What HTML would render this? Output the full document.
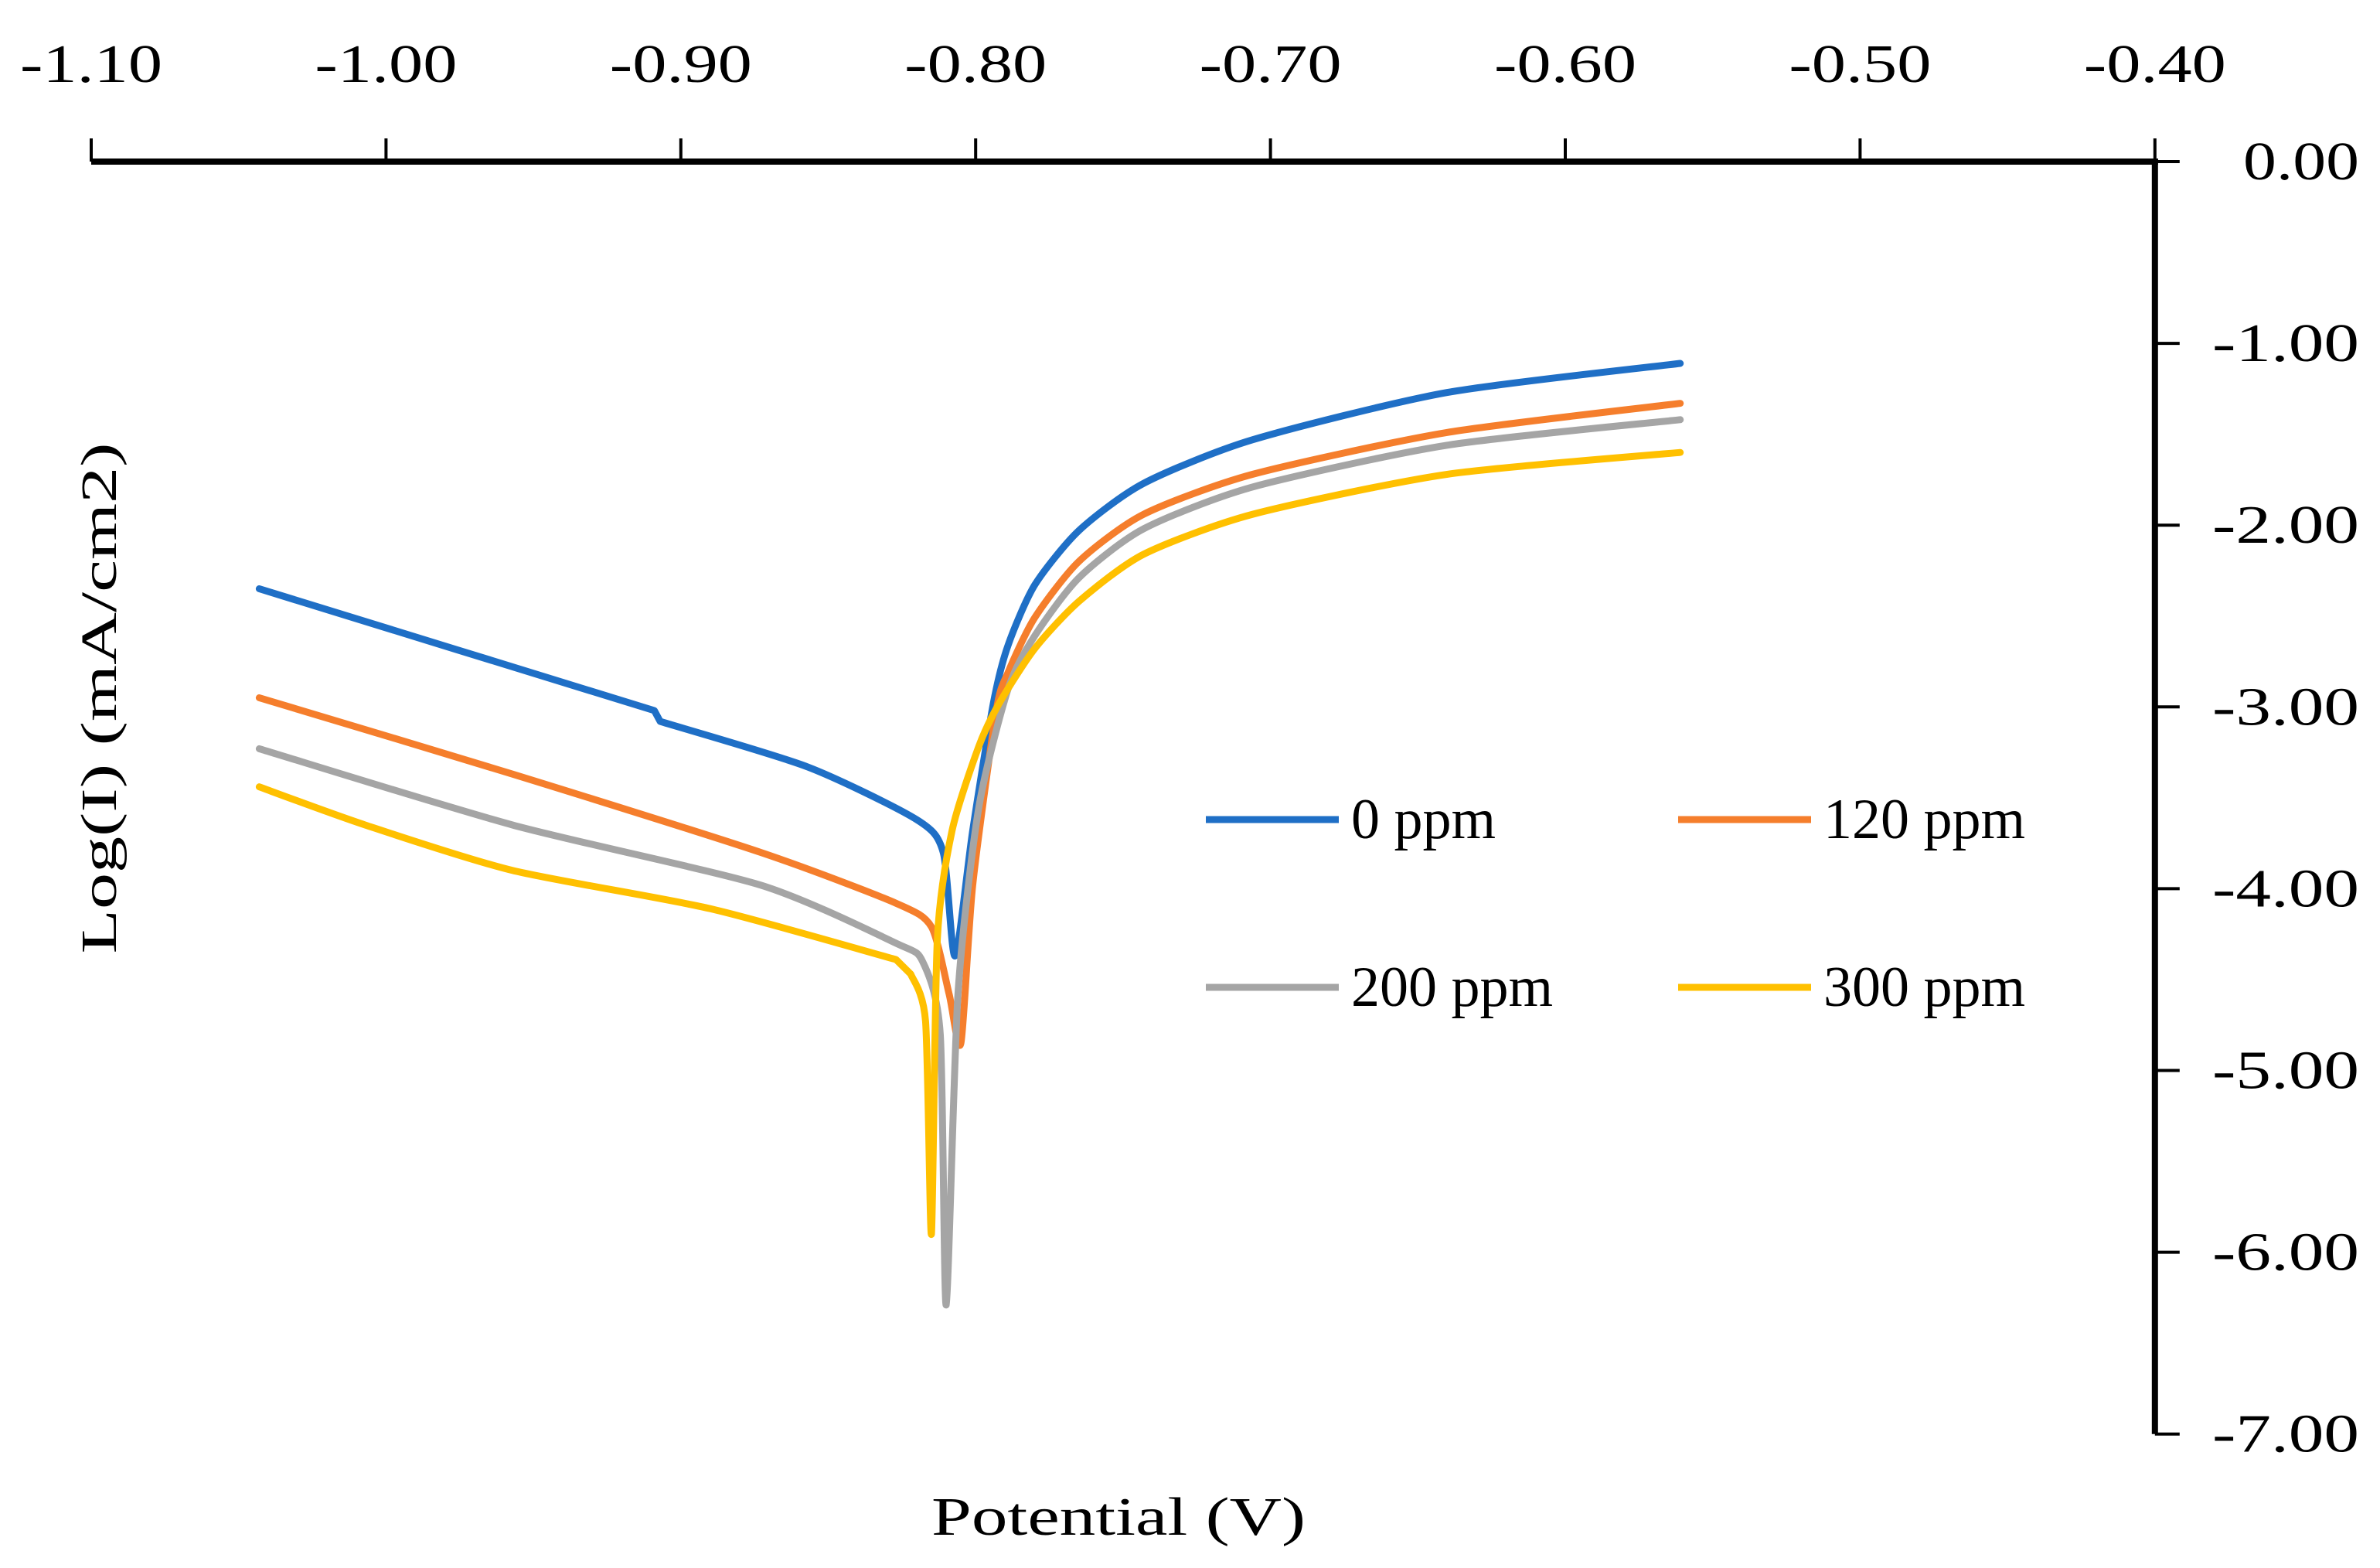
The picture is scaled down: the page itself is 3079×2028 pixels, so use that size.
<!DOCTYPE html>
<html><head><meta charset="utf-8"><style>
html,body{margin:0;padding:0;background:#fff;}
svg{display:block;font-family:"Liberation Serif",serif;}
</style></head><body>
<svg id="chart" width="3079" height="2028" viewBox="0 0 3079 2028" xmlns="http://www.w3.org/2000/svg">
<g id="axes"></g>
<g id="series"></g>
<text x="0" y="0" transform="translate(150,903) rotate(-90)" text-anchor="middle" font-size="66" textLength="661" lengthAdjust="spacingAndGlyphs">Log(I) (mA/cm2)</text>
<text x="1447" y="1985" text-anchor="middle" font-size="70" textLength="484" lengthAdjust="spacingAndGlyphs">Potential (V)</text>
<g id="legend"></g>
</svg>
<script>
const xTicks=[-1.10,-1.00,-0.90,-0.80,-0.70,-0.60,-0.50,-0.40];
const xTickLabels=["-1.10","-1.00","-0.90","-0.80","-0.70","-0.60","-0.50","-0.40"];
const yTicks=[0,-1,-2,-3,-4,-5,-6,-7];
const yTickLabels=["0.00","-1.00","-2.00","-3.00","-4.00","-5.00","-6.00","-7.00"];
const seriesNames=["0 ppm","120 ppm","200 ppm","300 ppm"];
const seriesColors=["#1f6fc6","#f57e2c","#a5a5a5","#ffc000"];
const blueV=[-1.043,-0.909,-0.907,-0.857,-0.820,-0.811,-0.807,-0.801,-0.794,-0.789,-0.780,-0.765,-0.743,-0.706,-0.640,-0.561];
const blueL=[-2.35,-3.02,-3.08,-3.33,-3.62,-3.80,-4.37,-3.68,-2.98,-2.66,-2.33,-2.03,-1.77,-1.53,-1.27,-1.11];
const orangeV=[-1.043,-0.957,-0.873,-0.827,-0.815,-0.809,-0.805,-0.801,-0.793,-0.789,-0.780,-0.765,-0.743,-0.706,-0.640,-0.561];
const orangeL=[-2.95,-3.37,-3.80,-4.08,-4.21,-4.58,-4.85,-3.98,-3.02,-2.81,-2.51,-2.20,-1.94,-1.72,-1.49,-1.33];
const grayV=[-1.043,-0.957,-0.873,-0.827,-0.818,-0.812,-0.810,-0.806,-0.799,-0.789,-0.780,-0.765,-0.743,-0.706,-0.640,-0.561];
const grayL=[-3.23,-3.65,-3.98,-4.30,-4.40,-4.80,-6.29,-4.58,-3.56,-2.90,-2.61,-2.29,-2.02,-1.79,-1.56,-1.42];
const yellowV=[-1.043,-1.007,-0.957,-0.890,-0.827,-0.822,-0.817,-0.815,-0.813,-0.808,-0.799,-0.792,-0.780,-0.765,-0.743,-0.706,-0.640,-0.561];
const yellowL=[-3.44,-3.65,-3.90,-4.11,-4.39,-4.47,-4.73,-5.90,-4.28,-3.68,-3.22,-2.98,-2.68,-2.42,-2.16,-1.94,-1.72,-1.60];

const NS="http://www.w3.org/2000/svg";
function xs(v){return 118+(v+1.10)/0.1*381.4;}
function ys(l){return 209+(-l)*235.1;}
function mk(tag,attrs,parent){const e=document.createElementNS(NS,tag);for(const k in attrs)e.setAttribute(k,attrs[k]);parent.appendChild(e);return e;}
function smoothPath(pts){
  let d='M'+pts[0][0].toFixed(1)+','+pts[0][1].toFixed(1);
  const t=0.12;
  const seg=(a,b)=>Math.hypot(b[0]-a[0],b[1]-a[1]);
  for(let i=0;i<pts.length-1;i++){
    const p1=pts[i],p2=pts[i+1];
    let p0=pts[Math.max(0,i-1)],p3=pts[Math.min(pts.length-1,i+2)];
    if(seg(p1,p2)<40){d+=' L'+p2[0].toFixed(1)+','+p2[1].toFixed(1);continue;}
    if(i>0&&seg(p0,p1)<40)p0=p1;
    if(i+2<pts.length&&seg(p2,p3)<40)p3=p2;
    const c1=[p1[0]+(p2[0]-p0[0])*t,p1[1]+(p2[1]-p0[1])*t];
    const c2=[p2[0]-(p3[0]-p1[0])*t,p2[1]-(p3[1]-p1[1])*t];
    d+=' C'+c1[0].toFixed(1)+','+c1[1].toFixed(1)+' '+c2[0].toFixed(1)+','+c2[1].toFixed(1)+' '+p2[0].toFixed(1)+','+p2[1].toFixed(1);
  }
  return d;
}
const axes=document.getElementById('axes');
const axY=ys(0), axX=xs(-0.40);
let e=mk('line',{x1:xs(-1.10),y1:axY,x2:axX+4,y2:axY,stroke:'#000','stroke-width':8},axes);


e=mk('line',{x1:axX,y1:axY-4,x2:axX,y2:ys(-7),stroke:'#000','stroke-width':8},axes);


xTicks.forEach((v,i)=>{
  let t=mk('line',{x1:xs(v),y1:axY-30,x2:xs(v),y2:axY,stroke:'#000','stroke-width':4},axes);
  
  
  let tx=mk('text',{x:xs(v),y:106,'text-anchor':'middle','font-size':70,textLength:184,lengthAdjust:'spacingAndGlyphs'},axes);
  tx.textContent=xTickLabels[i];
  
  
});
yTicks.forEach((v,i)=>{
  let t=mk('line',{x1:axX,y1:ys(v),x2:axX+32,y2:ys(v),stroke:'#000','stroke-width':4},axes);
  
  
  const lbl=yTickLabels[i];
  const w=lbl.startsWith('-')?190:150;
  let tx=mk('text',{x:2862+(lbl.startsWith('-')?0:40),y:ys(v)+23,'font-size':70,textLength:w,lengthAdjust:'spacingAndGlyphs'},axes);
  tx.textContent=lbl;
  
  
});
const seriesG=document.getElementById('series');
const allV=[blueV,orangeV,grayV,yellowV], allL=[blueL,orangeL,grayL,yellowL];
[0,1,2,3].forEach(s=>{
  const pts=allV[s].map((v,i)=>[xs(v),ys(allL[s][i])]);
  let p=mk('path',{d:smoothPath(pts),fill:'none',stroke:seriesColors[s],'stroke-width':9,'stroke-linejoin':'round','stroke-linecap':'round'},seriesG);
  
  
});
const leg=document.getElementById('legend');
const legPos=[[1560,1060],[2171,1060],[1560,1277],[2171,1277]];
seriesNames.forEach((n,i)=>{
  const [lx,ly]=legPos[i];
  let l=mk('line',{x1:lx,y1:ly,x2:lx+172,y2:ly,stroke:seriesColors[i],'stroke-width':9},leg);
  
  
  let t=mk('text',{x:lx+188,y:ly+24,'font-size':74},leg);
  t.textContent=n;
  
  
});
</script>
</body></html>
